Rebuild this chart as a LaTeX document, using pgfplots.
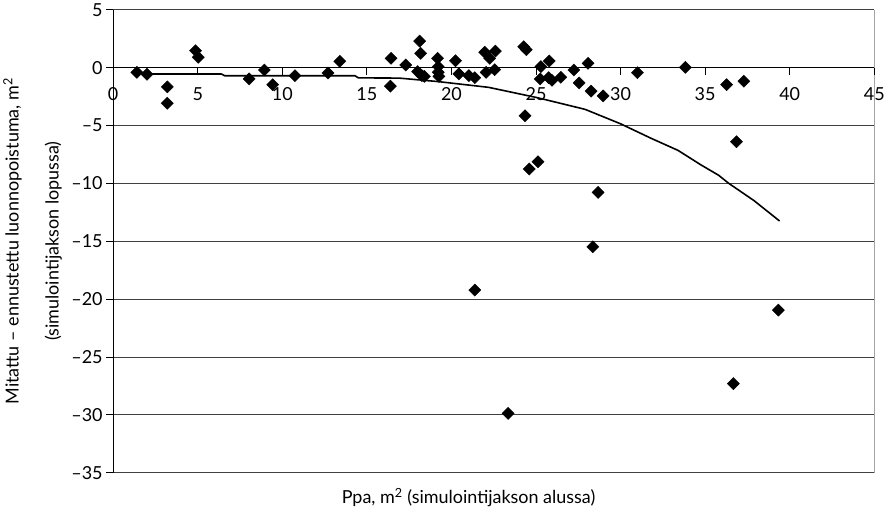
\documentclass[border=0pt]{standalone}
\usepackage{pgfplots}
\pgfplotsset{compat=1.18}
\usepackage{fontspec}
\setmainfont{Lato}

\begin{document}
\begin{tikzpicture}
\begin{axis}[
    scale only axis,
    width=763pt, height=464pt,
    xmin=0, xmax=45, ymin=-35, ymax=5,
    axis x line=middle, axis y line=left,
    axis line style={-, black, line width=0.9pt},
    hide obscured x ticks=false,
    xtick={0,5,...,45},
    ytick={-35,-30,...,5},
    yticklabels={--35,--30,--25,--20,--15,--10,--5,0,5},
    tick align=outside, major tick length=7pt,
    tick style={black, line width=0.9pt},
    ymajorgrids, grid style={black!75, line width=0.9pt},
    /pgf/number format/assume math mode=true,
    ticklabel style={font=\fontsize{18}{20}\selectfont},
    xticklabel style={yshift=-9pt},
    xlabel={Ppa, m\textsuperscript{2} (simulointijakson alussa)},
    xlabel style={at={(rel axis cs:0.467,0)}, anchor=north, yshift=-12pt,
        font=\fontsize{18}{20}\selectfont},
    ylabel={\begin{tabular}{@{}c@{}}Mitattu -- ennustettu luonnopoistuma, m\textsuperscript{2}\\[20pt](simulointijakson lopussa)\end{tabular}},
    ylabel style={at={(ticklabel cs:0.5)}, anchor=south,
        font=\fontsize{18}{20}\selectfont},
]
% fitted curve
\addplot[black, line width=1.6pt] coordinates {
(1.4,-0.45)(2.3,-0.55)(6.4,-0.55)(6.6,-0.7)(14.3,-0.7)(14.5,-0.88)(16.9,-0.9)
(19.2,-1.2)(22.2,-1.7)(25.1,-2.6)(27.9,-3.6)(30.0,-4.85)(31.8,-6.1)(33.4,-7.15)
(34.75,-8.4)(35.8,-9.3)(36.4,-10.0)(37.9,-11.5)(39.4,-13.25)
};
% observations
\addplot[only marks, mark=square*, mark size=4.3pt, mark options={rotate=45, black, fill=black}] coordinates {
(1.4,-0.4)(2.0,-0.57)(3.2,-1.66)(3.2,-3.07)(4.87,1.47)(5.03,0.9)
(8.04,-0.97)(8.94,-0.2)(9.43,-1.47)(10.75,-0.69)(12.7,-0.46)(13.4,0.55)
(16.43,0.81)(16.39,-1.6)(17.3,0.23)(18.12,2.3)(18.18,1.24)(18.0,-0.34)
(18.25,-0.69)(18.4,-0.75)(19.18,0.81)(19.22,0.09)(19.22,-0.4)(19.26,-0.75)
(20.24,0.6)(20.44,-0.54)(21.03,-0.69)(21.38,-0.86)(21.97,1.33)(22.26,0.81)
(22.05,-0.4)(22.6,1.44)(22.56,-0.17)(24.27,1.81)(24.43,1.55)(25.29,0.09)
(25.25,-0.97)(25.78,0.58)(25.75,-0.86)(25.94,-1.09)(26.47,-0.83)(27.24,-0.2)
(28.08,0.38)(27.55,-1.32)(28.26,-2.03)(28.97,-2.44)(31.0,-0.43)(24.35,-4.16)
(33.83,0.03)(36.27,-1.47)(37.29,-1.17)(24.6,-8.76)(25.12,-8.13)(28.67,-10.78)
(28.36,-15.48)(21.38,-19.22)(39.33,-20.95)(36.67,-27.3)(23.35,-29.88)(36.85,-6.4)
};
\draw[black, line width=1.2pt] (rel axis cs:1,0) -- (rel axis cs:1,1);
\end{axis}
\end{tikzpicture}
\end{document}
